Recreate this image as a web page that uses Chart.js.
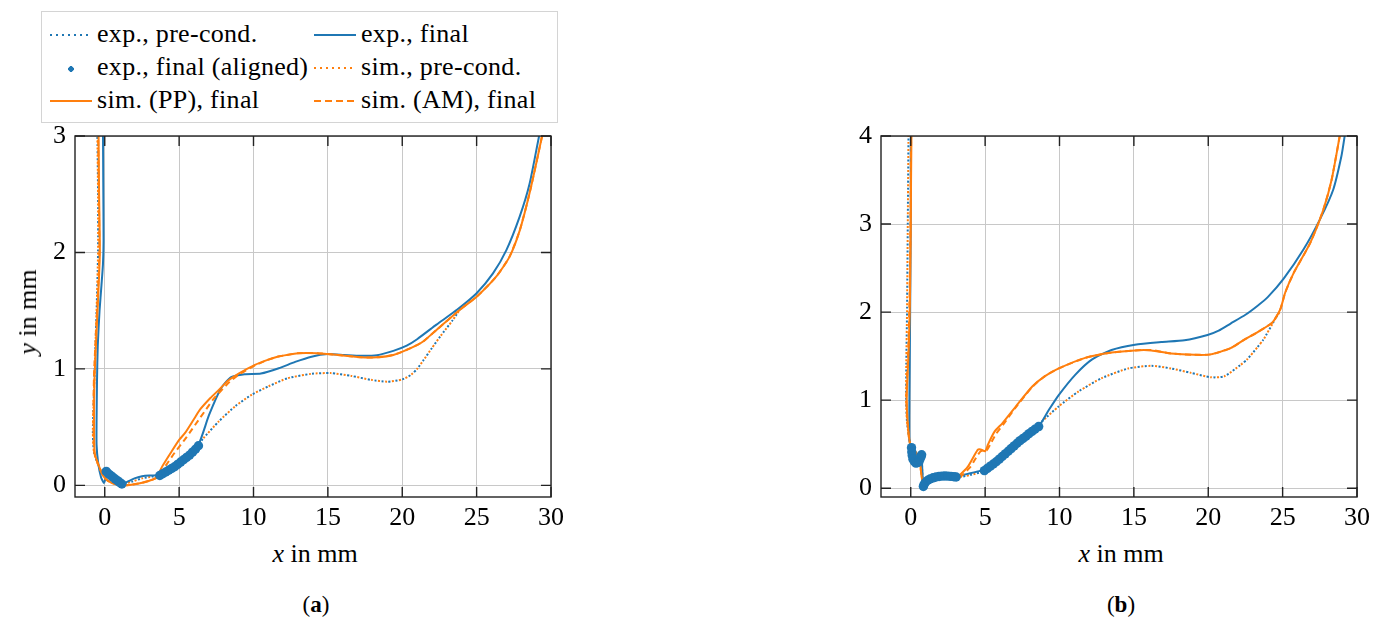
<!DOCTYPE html>
<html>
<head>
<meta charset="utf-8">
<title>Contour comparison</title>
<script src="https://cdn.jsdelivr.net/npm/chart.js@4.4.1/dist/chart.umd.min.js"></script>
<style>
  body { margin: 0; background: #fff; width: 1390px; height: 619px; position: relative; overflow: hidden;
         font-family: "Liberation Serif", "DejaVu Serif", serif; color: #000; }
  .plot { position: absolute; top: 0; width: 570px; height: 530px; }
  #wrapA { left: 0; }
  #wrapB { left: 806px; }
  .legend { position: absolute; left: 41px; top: 11px; width: 515px; height: 110px;
            border: 1px solid #d4d4d4; background: #fff; z-index: 2; font-size: 26px; letter-spacing: 0.3px; }
  .item { position: absolute; height: 30px; line-height: 30px; white-space: nowrap; }
  .smp { display: inline-block; width: 42px; height: 2px; vertical-align: middle; margin-right: 5px; position: relative; top: -1px; }
  .solidB { background: #1f77b4; }
  .solidO { background: #ff7f0e; }
  .dotB { background: repeating-linear-gradient(to right, #1f77b4 0 2px, transparent 2px 6px); }
  .dotO { background: repeating-linear-gradient(to right, #ff7f0e 0 2px, transparent 2px 6px); }
  .dashO { background: repeating-linear-gradient(to right, #ff7f0e 0 7px, transparent 7px 11px); }
  .mark { height: 6px; background: radial-gradient(circle at 21px 3px, #1f77b4 2.6px, transparent 3px); top: 0; }
  .title { position: absolute; font-size: 26px; white-space: nowrap; transform: translate(-50%, -50%); }
  .ytitle { transform: translate(-50%, -50%) rotate(-90deg); }
  .cap { font-size: 23px; }
</style>
</head>
<body>

<div class="legend">
  <div class="item" style="left:8px;top:7px"><span class="smp dotB"></span>exp., pre-cond.</div>
  <div class="item" style="left:272px;top:7px"><span class="smp solidB"></span>exp., final</div>
  <div class="item" style="left:8px;top:40px"><span class="smp mark"></span>exp., final (aligned)</div>
  <div class="item" style="left:272px;top:40px"><span class="smp dotO"></span>sim., pre-cond.</div>
  <div class="item" style="left:8px;top:73px"><span class="smp solidO"></span>sim. (PP), final</div>
  <div class="item" style="left:272px;top:73px"><span class="smp dashO"></span>sim. (AM), final</div>
</div>

<div class="plot" id="wrapA"><canvas id="chartA" width="570" height="530"></canvas></div>
<div class="plot" id="wrapB"><canvas id="chartB" width="570" height="530"></canvas></div>

<div class="title ytitle" style="left:28px;top:312px"><i>y</i> in mm</div>
<div class="title" style="left:315px;top:554px"><i>x</i> in mm</div>
<div class="title" style="left:1121px;top:554px"><i>x</i> in mm</div>
<div class="title cap" style="left:316px;top:605px">(<b>a</b>)</div>
<div class="title cap" style="left:1121px;top:605px">(<b>b</b>)</div>

<script>
// axis ticks
const xTicks = [0, 5, 10, 15, 20, 25, 30];
const yTicksA = [0, 1, 2, 3];
const yTicksB = [0, 1, 2, 3, 4];

// ---- panel (a): x, y in mm ----
const aExpPre = [[-0.5,3.05],[-0.45,2.5],[-0.45,2.0],[-0.55,1.5],[-0.65,1.1],[-0.75,0.7],[-0.8,0.45],[-0.72,0.28],
  [-0.45,0.18],[-0.15,0.1],[0.1,0.11],[0.6,0.065],[1.2,0.015],[1.8,0.03],[2.5,0.06],[3.2,0.075],[3.7,0.085],
  [4.5,0.145],[5.5,0.24],[6.3,0.35],[6.6,0.4],[7.67,0.55],[8.78,0.68],[9.9,0.78],[11.0,0.85],[12.3,0.92],
  [13.9,0.958],[15.2,0.964],[16.56,0.94],[17.9,0.906],[19.0,0.89],[20.0,0.91],[20.6,0.95],[21.0,1.0],
  [21.4,1.07],[22.0,1.18],[22.56,1.28],[23.4,1.42],[24.0,1.535]];
const aSimPre = aExpPre;
const aExpFinal = [[-0.12,3.05],[-0.1,2.6],[-0.08,2.1],[-0.12,1.9],[-0.22,1.72],[-0.35,1.5],[-0.47,1.2],[-0.52,0.9],
  [-0.55,0.55],[-0.55,0.35],[-0.45,0.2],[-0.25,0.07],[-0.05,0.02],[0.05,0.06],[0.1,0.11],[0.4,0.08],[0.8,0.04],
  [1.2,0.015],[1.5,0.03],[2.0,0.06],[2.5,0.078],[3.0,0.085],[3.5,0.086],[3.8,0.09],[4.5,0.15],[5.5,0.26],
  [6.3,0.35],[7.0,0.6],[7.8,0.83],[8.5,0.93],[9.4,0.955],[10.5,0.96],[11.7,1.005],[12.8,1.06],[13.9,1.105],
  [15.0,1.127],[16.1,1.12],[17.2,1.113],[18.3,1.118],[19.4,1.155],[20.3,1.2],[21.0,1.255],[22.3,1.38],
  [23.7,1.51],[25.0,1.65],[26.1,1.82],[27.0,2.02],[27.9,2.31],[28.56,2.59],[29.2,3.0],[29.3,3.05]];
const aExpAligned = [[0.1,0.12],[0.25,0.1],[0.4,0.085],[0.55,0.07],[0.7,0.055],[0.85,0.04],[1.0,0.025],[1.15,0.012],
  [3.7,0.085],[3.9,0.1],[4.1,0.115],[4.3,0.13],[4.5,0.145],[4.7,0.16],[4.9,0.18],[5.1,0.2],[5.3,0.22],
  [5.5,0.24],[5.7,0.26],[5.9,0.285],[6.1,0.31],[6.3,0.34]];
const aSimPP = [[-0.42,3.05],[-0.38,2.5],[-0.33,2.0],[-0.45,1.6],[-0.56,1.3],[-0.68,0.95],[-0.72,0.7],[-0.72,0.45],
  [-0.67,0.27],[-0.4,0.17],[-0.1,0.08],[0.2,0.04],[0.67,0.012],[1.33,0.0],[1.9,0.008],[2.44,0.02],[3.0,0.04],
  [3.44,0.065],[3.9,0.17],[4.44,0.28],[5.0,0.39],[5.4,0.45],[6.0,0.57],[6.4,0.65],[7.1,0.75],[7.67,0.82],
  [8.3,0.9],[9.0,0.96],[10.1,1.035],[11.0,1.08],[11.67,1.106],[13.0,1.135],[14.3,1.135],[15.67,1.12],
  [17.2,1.1],[18.3,1.1],[19.4,1.12],[20.6,1.18],[21.4,1.235],[22.3,1.335],[23.9,1.51],[25.0,1.62],
  [26.3,1.79],[27.2,1.96],[27.9,2.19],[28.56,2.51],[29.4,3.0],[29.45,3.05]];
const aSimAM = [[-0.45,3.05],[-0.4,2.5],[-0.36,2.0],[-0.48,1.6],[-0.6,1.3],[-0.72,0.95],[-0.76,0.7],[-0.76,0.45],
  [-0.7,0.28],[-0.42,0.17],[-0.1,0.08],[0.2,0.04],[0.67,0.012],[1.33,0.0],[1.9,0.008],[2.44,0.02],[3.0,0.04],
  [3.5,0.065],[4.1,0.17],[4.7,0.28],[5.3,0.38],[5.7,0.45],[6.3,0.56],[6.8,0.65],[7.3,0.74],[7.8,0.81],
  [8.4,0.89],[9.0,0.95],[10.1,1.03],[11.0,1.08],[11.67,1.106],[13.0,1.135],[14.3,1.135],[15.67,1.12],
  [17.2,1.1],[18.3,1.1],[19.4,1.12],[20.6,1.18],[21.4,1.235],[22.3,1.335],[23.9,1.51],[25.0,1.62],
  [26.3,1.79],[27.2,1.96],[27.9,2.19],[28.56,2.51],[29.4,3.0],[29.45,3.05]];

// ---- panel (b) ----
const bExpPre = [[-0.15,4.05],[-0.2,3.0],[-0.25,2.0],[-0.3,1.42],[-0.31,1.0],[-0.25,0.75],[-0.05,0.5],[0.1,0.38],
  [0.3,0.3],[0.55,0.3],[0.72,0.36],[0.85,0.03],[1.3,0.1],[2.0,0.13],[2.7,0.13],[3.07,0.12],[4.0,0.15],
  [4.84,0.19],[5.75,0.3],[6.75,0.45],[7.75,0.59],[8.62,0.7],[8.84,0.76],[9.95,0.93],[11.29,1.1],[12.84,1.25],
  [14.62,1.36],[16.17,1.39],[17.5,1.36],[18.84,1.31],[20.17,1.26],[21.07,1.27],[22.17,1.4],[22.6,1.46],
  [23.3,1.6],[23.7,1.685],[24.6,1.95],[24.8,2.0]];
const bSimPre = bExpPre;
const bExpFinal = [[0.0,4.05],[0.0,3.0],[-0.05,1.8],[-0.09,1.04],[-0.09,0.55],[0.05,0.45],[0.15,0.34],[0.35,0.29],
  [0.55,0.3],[0.72,0.37],[0.78,0.2],[0.85,0.03],[1.1,0.09],[1.5,0.125],[2.1,0.14],[2.7,0.135],[3.0,0.13],
  [3.5,0.15],[4.0,0.17],[4.5,0.19],[4.95,0.21],[5.73,0.3],[6.62,0.435],[7.5,0.557],[8.6,0.7],[9.29,0.89],
  [9.96,1.06],[11.07,1.29],[12.17,1.46],[13.5,1.57],[15.07,1.63],[16.84,1.66],[18.4,1.68],[19.95,1.74],
  [20.7,1.79],[21.5,1.87],[22.5,1.97],[23.3,2.07],[24.0,2.17],[25.07,2.38],[26.4,2.71],[27.5,3.05],[28.4,3.39],
  [28.95,3.77],[29.17,4.0],[29.2,4.05]];
const bExpAligned = [[0.05,0.46],[0.07,0.41],[0.1,0.37],[0.15,0.33],[0.25,0.3],[0.35,0.285],[0.45,0.29],
  [0.55,0.3],[0.62,0.33],[0.7,0.36],[0.73,0.38],
  [0.85,0.02],[0.9,0.045],[1.0,0.07],[1.15,0.09],[1.3,0.105],[1.5,0.118],[1.7,0.127],[1.9,0.133],[2.1,0.137],
  [2.3,0.138],[2.5,0.137],[2.7,0.134],[2.9,0.13],[3.05,0.127],
  [4.95,0.2],[5.15,0.225],[5.35,0.25],[5.55,0.275],[5.75,0.3],[5.95,0.33],[6.15,0.36],[6.35,0.39],[6.55,0.42],
  [6.75,0.45],[6.95,0.48],[7.15,0.51],[7.35,0.54],[7.55,0.565],[7.75,0.59],[7.95,0.62],[8.15,0.645],
  [8.35,0.67],[8.6,0.7]];
const bSimPP = [[0.05,4.05],[0.02,3.5],[0.0,2.94],[-0.05,2.18],[-0.13,1.61],[-0.27,1.04],[-0.22,0.78],[-0.05,0.51],
  [0.29,0.42],[0.58,0.34],[0.73,0.13],[0.84,0.075],[1.2,0.09],[1.8,0.12],[2.4,0.13],[3.0,0.12],[3.29,0.15],
  [3.84,0.245],[4.5,0.435],[4.7,0.44],[5.0,0.42],[5.2,0.5],[5.62,0.64],[6.17,0.74],[7.07,0.93],[8.17,1.155],
  [9.0,1.27],[9.95,1.36],[11.73,1.48],[13.5,1.54],[15.07,1.565],[16.17,1.565],[17.5,1.53],[19.07,1.515],
  [20.17,1.52],[21.5,1.59],[22.4,1.685],[23.3,1.77],[24.3,1.88],[24.84,2.03],[25.17,2.22],[25.73,2.44],
  [26.84,2.78],[27.73,3.16],[28.29,3.5],[28.84,4.0],[28.9,4.05]];
const bSimAM = [[0.03,4.05],[0.0,3.5],[-0.02,2.94],[-0.08,2.18],[-0.16,1.61],[-0.3,1.04],[-0.24,0.78],[-0.06,0.51],
  [0.29,0.42],[0.58,0.34],[0.73,0.13],[0.84,0.075],[1.2,0.09],[1.8,0.12],[2.4,0.13],[3.0,0.12],[3.4,0.14],
  [4.0,0.24],[4.3,0.32],[4.7,0.42],[5.1,0.43],[5.35,0.5],[5.75,0.62],[6.25,0.73],[7.07,0.92],[8.17,1.15],
  [9.0,1.27],[9.95,1.36],[11.73,1.48],[13.5,1.54],[15.07,1.565],[16.17,1.57],[17.5,1.53],[19.07,1.515],
  [20.17,1.52],[21.5,1.59],[22.4,1.685],[23.3,1.77],[24.3,1.88],[24.84,2.03],[25.17,2.22],[25.73,2.44],
  [26.84,2.78],[27.73,3.16],[28.29,3.5],[28.84,4.0],[28.9,4.05]];

const blue = '#1f77b4';
const orange = '#ff7f0e';
const tickFont = { family: '"Liberation Serif", serif', size: 26 };

function pts(arr) {
  return arr.map(function(p) { return { x: p[0], y: p[1] }; });
}

function line(label, data, color, dash, offset) {
  return {
    label: label, data: pts(data), showLine: true, borderColor: color, backgroundColor: color,
    borderWidth: 2, borderDash: dash || [], borderDashOffset: offset || 0,
    pointRadius: 0, tension: 0.2, fill: false
  };
}

// first dataset ends up on top
function buildSets(expPre, simPre, expFinal, aligned, simPP, simAM) {
  return [
    { label: 'exp., final (aligned)', data: pts(aligned), showLine: false, pointRadius: 4.7,
      pointBackgroundColor: blue, pointBorderWidth: 0, pointHoverRadius: 4.7 },
    line('sim. (AM), final', simAM, orange, [6, 4]),
    line('sim. (PP), final', simPP, orange),
    line('exp., final', expFinal, blue),
    line('sim., pre-cond.', simPre, orange, [2, 5], 3.5),
    line('exp., pre-cond.', expPre, blue, [2, 5])
  ];
}

// frame around the plot area with inward ticks on all four sides
const framePlugin = {
  id: 'frame',
  afterDraw(chart) {
    const ctx = chart.ctx;
    const a = chart.chartArea;
    const sx = chart.scales.x, sy = chart.scales.y;
    ctx.save();
    ctx.strokeStyle = '#222';
    ctx.lineWidth = 1.4;
    ctx.beginPath();
    sx.ticks.forEach(function(t) {
      const px = sx.getPixelForValue(t.value);
      ctx.moveTo(px, a.bottom); ctx.lineTo(px, a.bottom - 10);
      ctx.moveTo(px, a.top); ctx.lineTo(px, a.top + 10);
    });
    sy.ticks.forEach(function(t) {
      const py = sy.getPixelForValue(t.value);
      ctx.moveTo(a.left, py); ctx.lineTo(a.left + 10, py);
      ctx.moveTo(a.right, py); ctx.lineTo(a.right - 10, py);
    });
    ctx.stroke();
    ctx.strokeRect(a.left, a.top, a.right - a.left, a.bottom - a.top);
    ctx.restore();
  }
};

function makeChart(canvasId, sets, yMax, yTicks) {
  const canvas = document.getElementById(canvasId);
  return new Chart(canvas.getContext('2d'), {
    type: 'scatter',
    data: { datasets: sets },
    options: {
      responsive: false,
      animation: false,
      devicePixelRatio: 1,
      layout: { padding: { top: 136, right: 15, left: 0, bottom: 0 } },
      plugins: { legend: { display: false }, tooltip: { enabled: false } },
      scales: {
        x: {
          type: 'linear', min: -2, max: 30,
          afterBuildTicks: function(s) { s.ticks = xTicks.map(function(v) { return { value: v }; }); },
          afterFit: function(s) { s.height = 33; },
          ticks: { font: tickFont, color: '#000', padding: 6, maxRotation: 0 },
          grid: { color: '#c8c8c8', lineWidth: 1, drawTicks: false },
          border: { display: false }
        },
        y: {
          type: 'linear', min: -0.1, max: yMax,
          afterBuildTicks: function(s) { s.ticks = yTicks.map(function(v) { return { value: v }; }); },
          afterFit: function(s) { s.width = 75; },
          ticks: { font: tickFont, color: '#000', padding: 9 },
          grid: { color: '#c8c8c8', lineWidth: 1, drawTicks: false },
          border: { display: false }
        }
      }
    },
    plugins: [framePlugin]
  });
}

makeChart('chartA', buildSets(aExpPre, aSimPre, aExpFinal, aExpAligned, aSimPP, aSimAM), 3, yTicksA);
makeChart('chartB', buildSets(bExpPre, bSimPre, bExpFinal, bExpAligned, bSimPP, bSimAM), 4, yTicksB);
</script>
</body>
</html>
